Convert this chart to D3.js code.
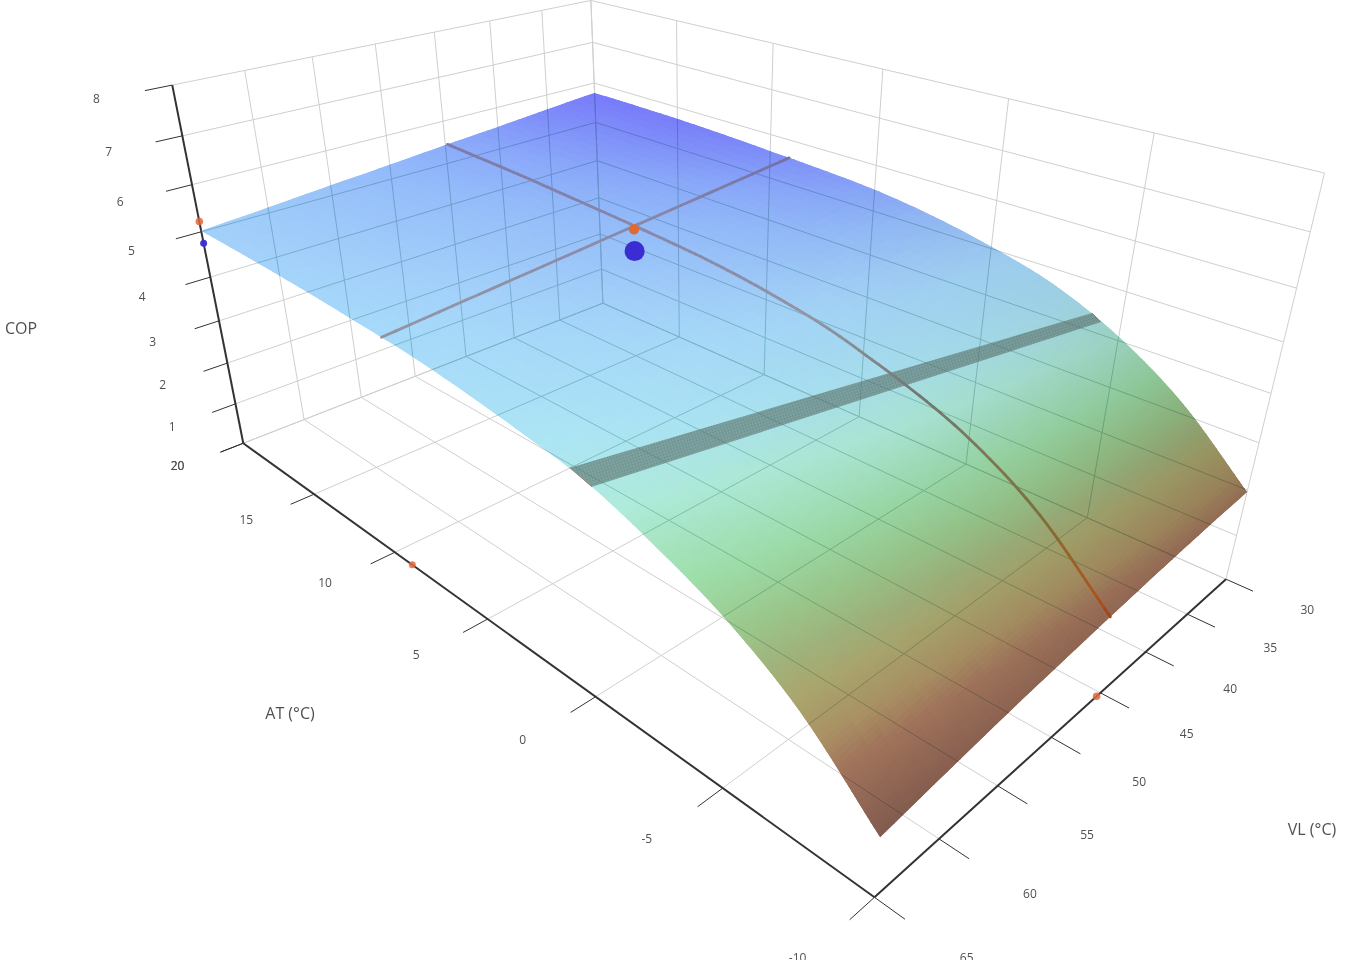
<!DOCTYPE html><html><head><meta charset="utf-8"><script src="https://cdn.jsdelivr.net/npm/d3@7"></script>
<style>html,body{margin:0;padding:0;background:#fff;overflow:hidden}svg{display:block}text{font-family:"Open Sans",sans-serif;fill:#505050}</style></head><body>
<svg id="chart" width="1345" height="960"></svg>
<script>
// ---------- data ----------
const atTicks=[-10,-5,0,5,10,15,20];
const vlTicks=[30,35,40,45,50,55,60,65];
const copTicks=[0,1,2,3,4,5,6,7,8];
const copTickLabels=["","1","2","3","4","5","6","7","8"];
const atGrid=[-10,-7.5,-5,-2.5,0,2.5,5,7.5,10,12.5,15,17.5,20];
const vlGrid=[30,35,40,45,50,55,60,65];
const copAtM10=[1.96,1.90,1.82,1.72,1.61,1.49,1.34,1.18];
const copAtM75=[3.20,3.15,3.08,3.00,2.89,2.76,2.62,2.45];
const copAtM5=[4.08,4.03,3.95,3.86,3.75,3.61,3.46,3.29];
const copAtM25=[4.68,4.61,4.53,4.42,4.30,4.17,4.02,3.85];
const copAt0=[5.04,4.98,4.91,4.81,4.70,4.58,4.44,4.28];
const copAt25=[5.30,5.23,5.14,5.04,4.92,4.79,4.65,4.50];
const copAt5=[5.47,5.39,5.29,5.19,5.07,4.95,4.81,4.67];
const copAt75=[5.56,5.47,5.37,5.27,5.16,5.04,4.92,4.80];
const copAt10=[5.62,5.52,5.42,5.32,5.21,5.10,4.99,4.87];
const copAt125=[5.68,5.57,5.47,5.36,5.25,5.15,5.04,4.93];
const copAt15=[5.72,5.61,5.51,5.40,5.29,5.19,5.08,4.97];
const copAt175=[5.74,5.63,5.53,5.42,5.32,5.21,5.11,5.00];
const copAt20=[5.75,5.65,5.54,5.44,5.33,5.23,5.12,5.02];
const copRows=[copAtM10,copAtM75,copAtM5,copAtM25,copAt0,copAt25,copAt5,copAt75,copAt10,copAt125,copAt15,copAt175,copAt20];
const selectedAT=9.0, selectedVL=45.4, selectedCOP=5.22, measuredCOP=4.75;
const lineAT=9.05;
const curveAT=[-10,-1.46,8.76,20], curveVL=[45.6,45.9,45.4,44.8];
const bandVL=[30,65], bandATHigh=[-3.97,0.57], bandATLow=[-4.32,-0.28], bandCOPHigh=[4.37,4.36], bandCOPLow=[4.25,4.24];
const colorStops=[1.0,1.4,1.9,2.2,2.6,2.9,3.2,3.6,4.1,4.5,4.9,5.04,5.3,5.47,5.6,5.75];
const colorValues=["#76544c","#8c6252","#a2755c","#aa9164","#aaa66e","#a0b47d","#9bc88c","#9edeaa","#afebda","#ace4f5","#a6d8fa","#a2cffa","#94bcfa","#8aa8fa","#8091fa","#787afa"];
const lineStops=[1.7,2.0,2.5,3.0,3.6,4.3,4.9,5.3,5.7];
const lineValues=["#a54114","#aa551e","#966428","#7d6e3c","#7d7855","#737873","#9196a5","#8787aa","#6969a5"];

// ---------- view calibration: box reference points to screen ----------
const calib=[[-10,65,0,874,898],[-10,30,0,1226,578],[20,65,0,243,443],[20,65,8,173,86],[-10,30,8,1325,172],[20,30,0,603,305],[20,30,8,591,-1],
[15,65,0,315,494],[10,65,0,393,551],[5,65,0,489,619],[0,65,0,596,697],[-5,65,0,723,787],
[-10,35,0,1188,613],[-10,40,0,1146,652],[-10,45,0,1100,693],[-10,50,0,1052,737],[-10,55,0,997,787],[-10,60,0,939,840],
[20,65,1,236,403],[20,65,2,227,363],[20,65,3,218,321],[20,65,4,210,277],[20,65,5,202,232],[20,65,6,192,185],[20,65,7,182,136],
[-10,30,1,1237,535],[-10,30,2,1247,492],[-10,30,3,1259,442],[-10,30,4,1270,393],[-10,30,5,1283,342],[-10,30,6,1296,289],[-10,30,7,1311,233]];
const nx=d3.scaleLinear([-10,20],[0,1]),ny=d3.scaleLinear([30,65],[0,1]),nz=d3.scaleLinear([0,8],[0,1]);
function solve(A,b){const n=b.length;A=A.map((r,i)=>[...r,b[i]]);for(let i=0;i<n;i++){let m=i;for(let k=i+1;k<n;k++)if(Math.abs(A[k][i])>Math.abs(A[m][i]))m=k;[A[i],A[m]]=[A[m],A[i]];for(let k=0;k<n;k++)if(k!==i){const f=A[k][i]/A[i][i];for(let j=i;j<=n;j++)A[k][j]-=f*A[i][j];}}return A.map((r,i)=>r[n]/r[i]);}
const rows=[],rhs=[];
calib.forEach(([a,v,c,sx,sy])=>{const x=nx(a),y=ny(v),z=nz(c),u=sx/1000,w=sy/1000;rows.push([x,y,z,1,0,0,0,0,-u*x,-u*y,-u*z]);rhs.push(u);rows.push([0,0,0,0,x,y,z,1,-w*x,-w*y,-w*z]);rhs.push(w);});
const p=solve(d3.range(11).map(i=>d3.range(11).map(j=>d3.sum(rows,r=>r[i]*r[j]))),d3.range(11).map(i=>d3.sum(rows,(r,k)=>r[i]*rhs[k])));
function proj(a,v,c){const x=nx(a),y=ny(v),z=nz(c),d=p[8]*x+p[9]*y+p[10]*z+1;return[1000*(p[0]*x+p[1]*y+p[2]*z+p[3])/d,1000*(p[4]*x+p[5]*y+p[6]*z+p[7])/d];}

// ---------- surface lookup ----------
function crom(arr,t){const n=arr.length-1;t=Math.max(0,Math.min(n,t));const i=Math.min(n-1,Math.floor(t)),f=t-i;
 const p1=arr[i],p2=arr[i+1],p0=i>0?arr[i-1]:2*p1-p2,p3=i<n-1?arr[i+2]:2*p2-p1;
 return 0.5*((2*p1)+(-p0+p2)*f+(2*p0-5*p1+4*p2-p3)*f*f+(-p0+3*p1-3*p2+p3)*f*f*f);}
const atIndex=d3.scaleLinear(atGrid,d3.range(atGrid.length)),vlIndex=d3.scaleLinear(vlGrid,d3.range(vlGrid.length));
function surf(at,vl){const tv=vlIndex(vl);return crom(copRows.map(r=>crom(r,tv)),atIndex(at));}
const colorScale=d3.scaleLinear(colorStops,colorValues).interpolate(d3.interpolateRgb).clamp(true);
const lineColor=d3.scaleLinear(lineStops,lineValues).interpolate(d3.interpolateRgb).clamp(true);
function surfColor(at,vl){const z=surf(at,vl),slope=Math.abs(surf(Math.min(20,at+.25),vl)-surf(Math.max(-10,at-.25),vl))/.5;
 const k=1-0.11*(1-ny(vl))*Math.min(1,slope/.28);const c=d3.rgb(colorScale(z));return d3.rgb(c.r*k,c.g*k,c.b*k).formatHex();}

// ---------- drawing ----------
const svg=d3.select("#chart");
const line=d3.line();
const seg=d=>line(d);
const defs=svg.append("defs");
const pat=defs.append("pattern").attr("id","stip").attr("width",3).attr("height",3).attr("patternUnits","userSpaceOnUse").attr("patternTransform","rotate(-18)");
pat.append("rect").attr("width",3).attr("height",3).attr("fill","#5c736c").attr("fill-opacity",.58);
pat.append("circle").attr("cx",1.5).attr("cy",1.5).attr("r",.9).attr("fill","#42544f").attr("fill-opacity",.28);

function gridSegments(){const s=[];
 atTicks.forEach(a=>{s.push([proj(a,30,0),proj(a,65,0)]);s.push([proj(a,30,0),proj(a,30,8)]);});
 vlTicks.forEach(v=>{s.push([proj(-10,v,0),proj(20,v,0)]);s.push([proj(20,v,0),proj(20,v,8)]);});
 copTicks.forEach(c=>{s.push([proj(20,65,c),proj(20,30,c)]);s.push([proj(20,30,c),proj(-10,30,c)]);});
 return s;}
const gs=gridSegments();
svg.append("g").selectAll("path").data(gs).join("path").attr("d",seg).attr("stroke","#cfcfcf").attr("stroke-width",1).attr("fill","none");

// axes
const axisG=svg.append("g").attr("stroke","#333").attr("fill","none");
const axisLines=[[proj(20,65,0),proj(-10,65,0)],[proj(-10,65,0),proj(-10,30,0)],[proj(20,65,0),proj(20,65,8)]];
axisG.selectAll(".axis").data(axisLines).join("path").attr("class","axis").attr("d",seg).attr("stroke-width",2);
const tickSegs=[...atTicks.map(a=>[proj(a,65,0),proj(a,66.8,0)]),...vlTicks.map(v=>[proj(-10,v,0),proj(-10.9,v,0)]),...copTicks.map(c=>[proj(20,65,c),proj(20,66.8,c)])];
axisG.selectAll(".tick").data(tickSegs).join("path").attr("class","tick").attr("d",seg).attr("stroke-width",1);

// surface
const atSteps=[...d3.range(0,100).map(i=>-10+i*0.1),...d3.range(0,51).map(i=>i*0.4)], vlSteps=d3.range(0,36).map(i=>30+i);
const quads=[];
for(let i=0;i<atSteps.length-1;i++)for(let j=0;j<vlSteps.length-1;j++){
 const a0=atSteps[i],a1=atSteps[i+1],v0=vlSteps[j],v1=vlSteps[j+1];
 quads.push({pts:[proj(a0,v0,surf(a0,v0)),proj(a1,v0,surf(a1,v0)),proj(a1,v1,surf(a1,v1)),proj(a0,v1,surf(a0,v1))],col:surfColor((a0+a1)/2,(v0+v1)/2)});}
const outline=[...atSteps.map(a=>proj(a,30,surf(a,30))),...vlSteps.map(v=>proj(20,v,surf(20,v))),...atSteps.slice().reverse().map(a=>proj(a,65,surf(a,65))),...vlSteps.slice().reverse().map(v=>proj(-10,v,surf(-10,v)))];
defs.append("clipPath").attr("id","surfClip").append("path").attr("d",line(outline)+"Z");
svg.append("g").attr("class","surface").attr("clip-path","url(#surfClip)").selectAll("path").data(quads).join("path")
 .attr("d",d=>line(d.pts)+"Z").attr("fill",d=>d.col).attr("stroke",d=>d.col).attr("stroke-width",1.4);

// grid seen through the surface
svg.append("g").attr("clip-path","url(#surfClip)").style("mix-blend-mode","multiply").selectAll("path").data(gs).join("path").attr("d",seg)
 .attr("stroke","#bcd4d2").attr("stroke-width",1).attr("fill","none");

// band on the surface
const bandQuad=[proj(bandATHigh[0],bandVL[0],bandCOPHigh[0]),proj(bandATHigh[1],bandVL[1],bandCOPHigh[1]),proj(bandATLow[1],bandVL[1],bandCOPLow[1]),proj(bandATLow[0],bandVL[0],bandCOPLow[0])];
svg.append("path").attr("d",line(bandQuad)+"Z").attr("fill","url(#stip)");
svg.selectAll(".fringe").data([[bandQuad[0],bandQuad[3]],[bandQuad[1],bandQuad[2]]]).join("path").attr("class","fringe").attr("d",seg).attr("stroke","#b4645a").attr("stroke-width",1).attr("fill","none").attr("opacity",.8);

// cross lines
const vlAlong=d3.scaleLinear(curveAT,curveVL);
const atEnds=[surf(lineAT,30),surf(lineAT,65)];
const atCut=d3.range(0,36).map(i=>30+i).map(v=>{const z=atEnds[0]+(atEnds[1]-atEnds[0])*ny(v);return{z,q:proj(lineAT,v,z)};});
const vlCut=d3.range(0,121).map(i=>-10+i/4).map(a=>({z:surf(a,vlAlong(a)),q:proj(a,vlAlong(a),surf(a,vlAlong(a)))}));
[atCut,vlCut].forEach(cut=>{svg.append("g").selectAll("path").data(d3.pairs(cut)).join("path")
 .attr("d",d=>line([d[0].q,d[1].q])).attr("stroke",d=>lineColor((d[0].z+d[1].z)/2)).attr("stroke-width",2.8).attr("stroke-linecap","round").attr("fill","none");});

// markers
const dots=[
 {q:proj(selectedAT,selectedVL,measuredCOP),r:10,c:"#3a2dd2",o:1},
 {q:proj(20,65,measuredCOP),r:3.5,c:"#3a2dd2",o:.95},
 {q:proj(20,65,selectedCOP),r:3.8,c:"#e1693a",o:.85},
 {q:proj(selectedAT,65,0),r:3.5,c:"#e1693a",o:.85},
 {q:proj(-10,selectedVL,0),r:3.8,c:"#e1693a",o:.85},
 {q:proj(selectedAT,selectedVL,selectedCOP),r:5.2,c:"#de6a37",o:1}];
svg.append("g").selectAll("circle").data(dots).join("circle").attr("cx",d=>d.q[0]).attr("cy",d=>d.q[1]).attr("r",d=>d.r).attr("fill",d=>d.c).attr("opacity",d=>d.o);

// tick labels
function labels(data,pos,txt){svg.append("g").selectAll("text").data(data).join("text").attr("x",d=>pos(d)[0]).attr("y",d=>pos(d)[1]).attr("text-anchor","middle").attr("dominant-baseline","central").attr("font-size",12).text(txt);}
const shift=(q,dx,dy)=>[q[0]+dx,q[1]+dy];
const atPos=a=>shift(proj(a,70.3,0),a<0?a*0.3+2:3,a<0?-5+a*0.35:-5);
labels(atTicks,atPos,d=>d);
labels([20],atPos,d=>d);
labels(vlTicks,v=>shift(proj(-12.6,v,0),1,-5),d=>d);
labels(copTicks,c=>shift(proj(20,70.3,c),7,-3),c=>copTickLabels[c]);
// axis titles
const titles=[{t:"COP",x:21,y:328},{t:"AT (°C)",x:290,y:713},{t:"VL (°C)",x:1312,y:829}];
svg.append("g").selectAll("text").data(titles).join("text").attr("x",d=>d.x).attr("y",d=>d.y).attr("text-anchor","middle").attr("dominant-baseline","central").attr("font-size",16).text(d=>d.t);
</script></body></html>
